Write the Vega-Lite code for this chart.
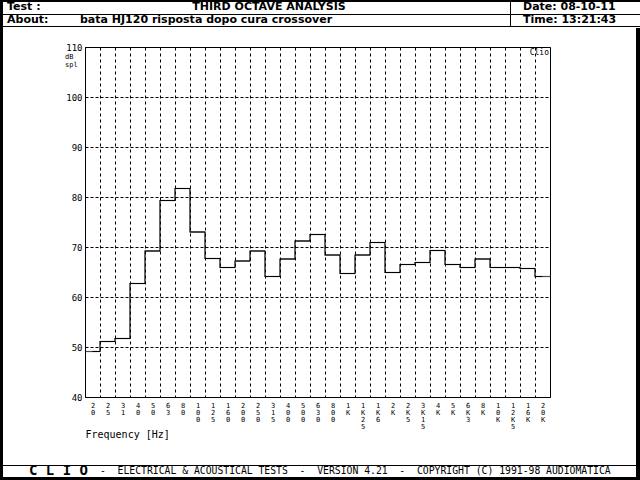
{
  "$schema": "https://vega.github.io/schema/vega-lite/v6.json",
  "width": 465,
  "height": 350,
  "autosize": {"type": "none"},
  "padding": {"left": 85, "top": 47, "right": 90, "bottom": 83},
  "background": "white",
  "config": {
    "view": {"stroke": "black", "strokeWidth": 1},
    "font": "DejaVu Sans Mono",
    "text": {"font": "DejaVu Sans Mono", "color": "black", "baseline": "middle", "align": "left"}
  },
  "datasets": {
    "bands": [
      {"band": "20", "db": 49.1},
      {"band": "25", "db": 51.1},
      {"band": "31", "db": 51.7},
      {"band": "40", "db": 62.7},
      {"band": "50", "db": 69.2},
      {"band": "63", "db": 79.3},
      {"band": "80", "db": 81.7},
      {"band": "100", "db": 73.0},
      {"band": "125", "db": 67.7},
      {"band": "160", "db": 65.9},
      {"band": "200", "db": 67.2},
      {"band": "250", "db": 69.2},
      {"band": "315", "db": 64.1},
      {"band": "400", "db": 67.6},
      {"band": "500", "db": 71.2},
      {"band": "630", "db": 72.5},
      {"band": "800", "db": 68.4},
      {"band": "1K", "db": 64.7},
      {"band": "1K25", "db": 68.4},
      {"band": "1K6", "db": 70.9},
      {"band": "2K", "db": 64.9},
      {"band": "2K5", "db": 66.5},
      {"band": "3K15", "db": 66.9},
      {"band": "4K", "db": 69.3},
      {"band": "5K", "db": 66.5},
      {"band": "6K3", "db": 65.9},
      {"band": "8K", "db": 67.6},
      {"band": "10K", "db": 65.9},
      {"band": "12K5", "db": 65.9},
      {"band": "16K", "db": 65.7},
      {"band": "20K", "db": 64.1}
    ]
  },
  "layer": [
    {
      "data": {"name": "bands"},
      "mark": {"type": "line", "interpolate": "step", "color": "black", "strokeWidth": 1.2},
      "encoding": {
        "x": {
          "field": "band", "type": "ordinal", "sort": null,
          "scale": {"type": "band", "paddingInner": 0, "paddingOuter": 0},
          "axis": {
            "grid": true, "tickBand": "extent", "gridDash": [3, 3], "gridColor": "black", "gridOpacity": 1,
            "ticks": false, "domain": false, "labelAngle": 0, "labelOverlap": false, "labelBound": false,
            "labelFont": "DejaVu Sans Mono", "labelFontSize": 7, "labelColor": "black",
            "labelLineHeight": 7, "labelBaseline": "top", "labelPadding": 4,
            "labelExpr": "split(datum.label, '')",
            "encode": {"labels": {"update": {"dy": {"signal": "indexof(['25','40','63','100','160','250','400','630','1K','1K6','2K5','4K','6K3','10K','16K'], datum.label) >= 0 ? 8 : 0"}}}},
            "title": "Frequency [Hz]", "titleX": 0, "titleY": 37, "titleAnchor": "start", "titleAlign": "left",
            "titleBaseline": "middle", "titleFont": "DejaVu Sans Mono", "titleFontSize": 10, "titleFontWeight": "normal", "titleColor": "black"
          }
        },
        "y": {
          "field": "db", "type": "quantitative",
          "scale": {"domain": [40, 110], "nice": false, "zero": false},
          "axis": {
            "values": [40, 50, 60, 70, 80, 90, 100, 110],
            "grid": true, "gridDash": [3, 2], "gridColor": "black", "gridOpacity": 1,
            "ticks": false, "domain": false, "labelPadding": 3,
            "labelFont": "DejaVu Sans Mono", "labelFontSize": 9, "labelColor": "black", "title": null
          }
        }
      }
    },
    {
      "data": {"name": "bands"},
      "mark": {"type": "tick", "color": "black", "size": 15, "thickness": 1.2},
      "encoding": {
        "x": {"field": "band", "type": "ordinal", "sort": null},
        "y": {"field": "db", "type": "quantitative"}
      }
    },
    {
      "data": {"values": [{"t": "dB"}]},
      "mark": {"type": "text", "fontSize": 7},
      "encoding": {"text": {"field": "t"}, "x": {"value": -20}, "y": {"value": 10}}
    },
    {
      "data": {"values": [{"t": "spl"}]},
      "mark": {"type": "text", "fontSize": 7},
      "encoding": {"text": {"field": "t"}, "x": {"value": -20}, "y": {"value": 17.5}}
    },
    {
      "data": {"values": [{"t": "Clio"}]},
      "mark": {"type": "text", "fontSize": 8, "align": "right"},
      "encoding": {"text": {"field": "t"}, "x": {"value": 464}, "y": {"value": 6}}
    },
    {
      "data": {"values": [{"t": "Test :"}]},
      "mark": {"type": "text", "font": "DejaVu Sans", "fontSize": 11, "fontWeight": "bold"},
      "encoding": {"text": {"field": "t"}, "x": {"value": -78}, "y": {"value": -40}}
    },
    {
      "data": {"values": [{"t": "THIRD OCTAVE ANALYSIS"}]},
      "mark": {"type": "text", "font": "DejaVu Sans", "fontSize": 11, "fontWeight": "bold", "align": "center"},
      "encoding": {"text": {"field": "t"}, "x": {"value": 184}, "y": {"value": -40}}
    },
    {
      "data": {"values": [{"t": "Date: 08-10-11"}]},
      "mark": {"type": "text", "font": "DejaVu Sans", "fontSize": 11, "fontWeight": "bold"},
      "encoding": {"text": {"field": "t"}, "x": {"value": 438}, "y": {"value": -40}}
    },
    {
      "data": {"values": [{"t": "About:"}]},
      "mark": {"type": "text", "font": "DejaVu Sans", "fontSize": 11, "fontWeight": "bold"},
      "encoding": {"text": {"field": "t"}, "x": {"value": -78}, "y": {"value": -27}}
    },
    {
      "data": {"values": [{"t": "bata HJ120 risposta dopo cura crossover"}]},
      "mark": {"type": "text", "font": "DejaVu Sans", "fontSize": 11, "fontWeight": "bold"},
      "encoding": {"text": {"field": "t"}, "x": {"value": -5}, "y": {"value": -27}}
    },
    {
      "data": {"values": [{"t": "Time: 13:21:43"}]},
      "mark": {"type": "text", "font": "DejaVu Sans", "fontSize": 11, "fontWeight": "bold"},
      "encoding": {"text": {"field": "t"}, "x": {"value": 438}, "y": {"value": -27}}
    },
    {
      "data": {"values": [{"t": "C L I O"}]},
      "mark": {"type": "text", "fontSize": 14, "fontWeight": "bold"},
      "encoding": {"text": {"field": "t"}, "x": {"value": -56}, "y": {"value": 424}}
    },
    {
      "data": {"values": [{"t": "-\u00a0\u00a0ELECTRICAL & ACOUSTICAL TESTS\u00a0\u00a0-\u00a0\u00a0VERSION 4.21\u00a0\u00a0-\u00a0\u00a0COPYRIGHT (C) 1991-98 AUDIOMATICA"}]},
      "mark": {"type": "text", "fontSize": 9.75},
      "encoding": {"text": {"field": "t"}, "x": {"value": 15}, "y": {"value": 424}}
    },
    {
      "data": {"values": [{"part": "top border"}]},
      "mark": {"type": "rect", "color": "black"},
      "encoding": {"x": {"value": -85}, "x2": {"value": 555}, "y": {"value": -47}, "y2": {"value": -45}}
    },
    {
      "data": {"values": [{"part": "left border"}]},
      "mark": {"type": "rect", "color": "black"},
      "encoding": {"x": {"value": -85}, "x2": {"value": -82}, "y": {"value": -47}, "y2": {"value": 433}}
    },
    {
      "data": {"values": [{"part": "right border"}]},
      "mark": {"type": "rect", "color": "black"},
      "encoding": {"x": {"value": 551}, "x2": {"value": 555}, "y": {"value": -19}, "y2": {"value": 433}}
    },
    {
      "data": {"values": [{"part": "bottom border"}]},
      "mark": {"type": "rect", "color": "black"},
      "encoding": {"x": {"value": -85}, "x2": {"value": 555}, "y": {"value": 430}, "y2": {"value": 433}}
    },
    {
      "data": {"values": [{"part": "header line 1"}]},
      "mark": {"type": "rule", "color": "black", "strokeWidth": 1},
      "encoding": {"x": {"value": -85}, "x2": {"value": 555}, "y": {"value": -32.5}}
    },
    {
      "data": {"values": [{"part": "header line 2"}]},
      "mark": {"type": "rule", "color": "black", "strokeWidth": 1},
      "encoding": {"x": {"value": -85}, "x2": {"value": 555}, "y": {"value": -20.5}}
    },
    {
      "data": {"values": [{"part": "header divider"}]},
      "mark": {"type": "rule", "color": "black", "strokeWidth": 1},
      "encoding": {"x": {"value": 425.5}, "y": {"value": -47}, "y2": {"value": -20.5}}
    },
    {
      "data": {"values": [{"part": "footer line"}]},
      "mark": {"type": "rule", "color": "black", "strokeWidth": 1},
      "encoding": {"x": {"value": -85}, "x2": {"value": 551}, "y": {"value": 418.5}}
    }
  ]
}
